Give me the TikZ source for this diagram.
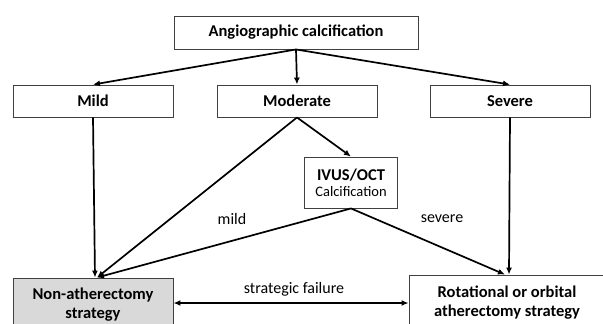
\documentclass[tikz,border=0pt]{standalone}
\usepackage{fontspec}
\setmainfont{Carlito}
\usetikzlibrary{arrows.meta}
\begin{document}
\begin{tikzpicture}[x=1pt,y=-1pt,
  box/.style={draw=black!75, line width=0.9pt, fill=white, font=\fontsize{16.5}{20}\selectfont\bfseries, inner sep=0pt, align=center},
  conn/.style={line width=1.7pt, -{Latex[length=7pt,width=6pt]}},
  lbl/.style={font=\fontsize{16}{19}\selectfont, inner sep=0pt}]
\useasboundingbox (0,0) rectangle (603,324);
\clip (0,0) rectangle (603,324);
\fill[white] (0,0) rectangle (603,324);
\node[box, minimum width=244pt, minimum height=33pt] (top) at (296,32.5) {Angiographic calcification};
\node[box, minimum width=160pt, minimum height=32pt] (mild) at (93,101) {Mild};
\node[box, minimum width=160pt, minimum height=32pt] (mod) at (297,101) {Moderate};
\node[box, minimum width=160pt, minimum height=32pt] (sev) at (510,101) {Severe};
\node[box, minimum width=93pt, minimum height=51pt] (ivus) at (351,182.5) {IVUS/OCT\\[-4pt]{\fontsize{14.5}{17}\selectfont\mdseries Calcification}};
\node[box, fill=black!15, minimum width=160pt, minimum height=54pt] (non) at (93,305) {Non-atherectomy\\[-1pt]strategy};
\node[box, minimum width=196pt, minimum height=55pt] (rot) at (507,302.5) {Rotational or orbital\\[-1pt]atherectomy strategy};
\draw[conn] (top.south) -- (mild.north);
\draw[conn] (top.south) -- (mod.north);
\draw[conn] (top.south) -- (sev.north);
\draw[conn] (mild.south) -- ([xshift=2pt]non.north);
\draw[conn] (mod.south) -- ([xshift=4pt]non.north);
\draw[conn] (ivus.south) -- ([xshift=4pt]non.north);
\draw[conn] (mod.south) -- (ivus.north);
\draw[conn] (ivus.south) -- ([xshift=-2pt]rot.north);
\draw[conn] (sev.south) -- ([xshift=2pt]rot.north);
\draw[line width=1.7pt, {Latex[length=7pt,width=6pt]}-{Latex[length=7pt,width=6pt]}] ([yshift=2pt]non.east) -- ([yshift=2pt]non.east -| rot.west);
\node[lbl] (sf) at (294,289) {strategic failure};
\node[lbl] (lm) at (232,219) {mild};
\node[lbl] (ls) at (442,219) {severe};
\end{tikzpicture}
\end{document}
